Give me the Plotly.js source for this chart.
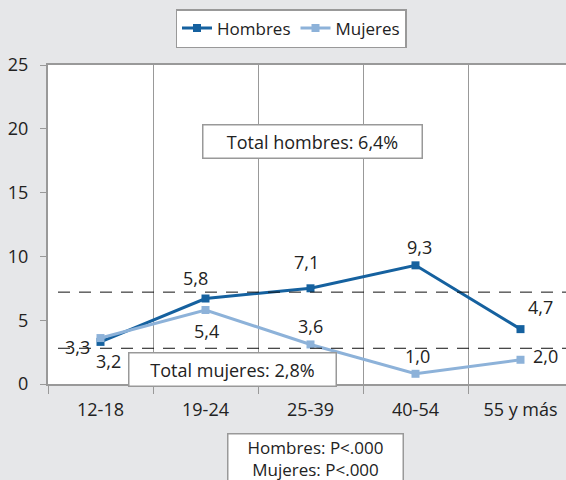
<!DOCTYPE html>
<html>
<head>
<meta charset="utf-8">
<script src="https://cdn.plot.ly/plotly-3.0.1.min.js"></script>
<style>
html,body{margin:0;padding:0;overflow:hidden;background:#e6e7e9;width:566px;height:480px;}
#chart{width:580px;height:480px;}
</style>
</head>
<body>
<div id="chart"></div>
<script>
// Data
const categories = ['12-18', '19-24', '25-39', '40-54', '55 y más'];
const hombres = [3.3, 6.7, 7.5, 9.3, 4.3];
const mujeres = [3.6, 5.8, 3.1, 0.8, 1.9];
const hombresLabels = ['3,3', '5,8', '7,1', '9,3', '4,7'];
const mujeresLabels = ['3,2', '5,4', '3,6', '1,0', '2,0'];
const totalLines = [7.2, 2.8];
const yTicks = [0, 5, 10, 15, 20, 25];

const FONT = 'Open Sans, Noto Sans, sans-serif';
const TXT = '#222';
const cH = '#15619f';
const cM = '#8db2d9';
const FS = 18;

const traces = [
  {x: categories, y: hombres, name: 'Hombres', type: 'scatter', mode: 'lines+markers',
   line: {color: cH, width: 3}, marker: {symbol: 'square', size: 8, color: cH}},
  {x: categories, y: mujeres, name: 'Mujeres', type: 'scatter', mode: 'lines+markers',
   line: {color: cM, width: 3}, marker: {symbol: 'square', size: 8, color: cM}}
];

const hShift = [[-23,-5],[-10,21],[-4,26],[4,18],[20,22]];
const mShift = [[8,-23],[1,-21],[0,18],[2,18],[25,4]];
const annotations = [];
categories.forEach((c, i) => {
  annotations.push({x: c, y: hombres[i], text: hombresLabels[i], showarrow: false,
    xshift: hShift[i][0], yshift: hShift[i][1], font: {family: FONT, size: FS, color: TXT}});
  annotations.push({x: c, y: mujeres[i], text: mujeresLabels[i], showarrow: false,
    xshift: mShift[i][0], yshift: mShift[i][1], font: {family: FONT, size: FS, color: TXT}});
});
annotations.push({xref: 'x', yref: 'y', x: 2.02, y: 19, text: 'Total hombres: 6,4%', showarrow: false,
  bgcolor: '#fff', bordercolor: '#999', borderwidth: 1.5, borderpad: 4,
  width: 210, font: {family: FONT, size: FS, color: TXT}});
annotations.push({xref: 'x', yref: 'y', x: 1.26, y: 1.1, text: 'Total mujeres: 2,8%', showarrow: false,
  bgcolor: '#fff', bordercolor: '#999', borderwidth: 1.5, borderpad: 4,
  width: 198, font: {family: FONT, size: FS, color: TXT}});
annotations.push({xref: 'paper', yref: 'paper', x: (315-48)/525, y: (384-433)/319, yanchor: 'top',
  text: 'Hombres: P<.000<br>Mujeres: P<.000', showarrow: false,
  bgcolor: '#fff', bordercolor: '#999', borderwidth: 1.5, borderpad: 1,
  width: 172, font: {family: FONT, size: 17, color: TXT}});

const shapes = totalLines.map(v => ({type: 'line', xref: 'paper', yref: 'y',
  x0: 10/525, x1: 1, y0: v, y1: v, line: {color: '#111', width: 1, dash: '12px,9px'}}));

const layout = {
  width: 580, height: 480,
  margin: {l: 48, r: 7, t: 65, b: 96},
  paper_bgcolor: '#e6e7e9', plot_bgcolor: '#fff',
  font: {family: FONT, size: FS, color: TXT},
  showlegend: true,
  legend: {orientation: 'h', x: (291-48)/525, xanchor: 'center', y: (384-9)/319, yanchor: 'top',
    bgcolor: '#fff', bordercolor: '#999', borderwidth: 1.5, tracegroupgap: 0, itemwidth: 30,
    font: {family: FONT, size: 17, color: TXT}},
  xaxis: {type: 'category', range: [-0.5, 4.5], tickson: 'boundaries', ticks: 'outside', ticklen: 8,
    tickcolor: '#999', showgrid: true, gridcolor: '#999', gridwidth: 1, showline: true, linecolor: '#999',
    linewidth: 2, mirror: true, zeroline: false, fixedrange: true, ticklabelstandoff: 8,
    tickfont: {family: FONT, size: FS, color: TXT}},
  yaxis: {range: [0, 25], tickvals: yTicks, ticks: 'outside', ticklen: 6, tickcolor: '#999',
    showgrid: false, zeroline: false, showline: true, linecolor: '#999', linewidth: 2, mirror: true,
    ticklabelstandoff: 8, tickfont: {family: FONT, size: FS, color: TXT}},
  annotations: annotations,
  shapes: shapes
};

Plotly.newPlot('chart', traces, layout, {displayModeBar: false, staticPlot: true});
</script>
</body>
</html>
